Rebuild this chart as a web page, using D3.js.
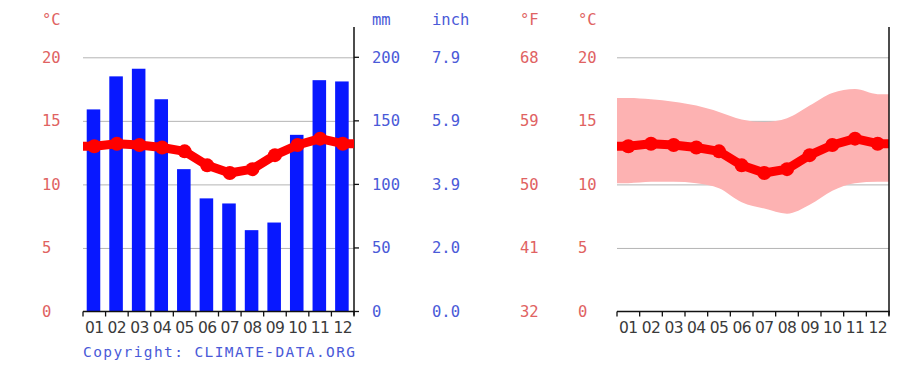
<!DOCTYPE html>
<html>
<head>
<meta charset="utf-8">
<script src="https://cdn.jsdelivr.net/npm/d3@7/dist/d3.min.js"></script>
<style>
  html, body { margin: 0; padding: 0; background: #fff; }
  svg { display: block; }
  .mono { font-family: "DejaVu Sans Mono", monospace; }
  .sans { font-family: "DejaVu Sans", sans-serif; }
</style>
</head>
<body>
<svg id="chart" width="912" height="366"></svg>
<script>
// Monthly climate data
const months = ["01","02","03","04","05","06","07","08","09","10","11","12"];
const precipMm = [159, 185, 191, 167, 112, 89, 85, 64, 70, 139, 182, 181];
const tempMean = [13.0, 13.2, 13.1, 12.9, 12.6, 11.5, 10.9, 11.2, 12.3, 13.1, 13.6, 13.2];
const tempMax  = [16.8, 16.7, 16.5, 16.2, 15.7, 15.1, 14.9, 15.2, 16.2, 17.2, 17.5, 17.1];
const tempMin  = [10.1, 10.2, 10.2, 10.1, 9.7, 8.6, 8.1, 7.7, 8.4, 9.5, 10.1, 10.2];

// Axis tick labels
const celsiusTicks = [0, 5, 10, 15, 20];
const mmTicks = [0, 50, 100, 150, 200];
const inchLabels = ["0.0", "2.0", "3.9", "5.9", "7.9"];
const fahrenheitLabels = ["32", "41", "50", "59", "68"];

const RED_TEXT = "#e06262";
const BLUE_TEXT = "#4a5ad8";
const GRID = "#b4b4b4";

const svg = d3.select("#chart");

const yTop = 57.3, yBase = 311.5;
const yC = d3.scaleLinear().domain([0, 20]).range([yBase, yTop]);
const yMm = d3.scaleLinear().domain([0, 200]).range([yBase, yTop]);

function drawGrid(g, x0, x1) {
  g.selectAll("line.grid").data(celsiusTicks.filter(d => d > 0)).join("line")
    .attr("x1", x0).attr("x2", x1)
    .attr("y1", d => yC(d) + 0.5).attr("y2", d => yC(d) + 0.5)
    .attr("stroke", GRID).attr("stroke-width", 1);
}

function drawFrame(g, x, x0, x1) {
  // bottom axis with tick marks at month boundaries
  g.append("line").attr("x1", x0).attr("x2", x1 + 1)
    .attr("y1", yBase).attr("y2", yBase).attr("stroke", "#111").attr("stroke-width", 1.5);
  const bounds = months.map(m => x(m)).concat([x1]);
  g.selectAll("line.tick").data(bounds).join("line")
    .attr("x1", d => d).attr("x2", d => d)
    .attr("y1", yBase).attr("y2", yBase + 5)
    .attr("stroke", "#111").attr("stroke-width", 1.3);
  // right vertical axis
  g.append("line").attr("x1", x1).attr("x2", x1)
    .attr("y1", 27).attr("y2", yBase + 4).attr("stroke", "#111").attr("stroke-width", 1.5);
  // month labels
  g.selectAll("text.month").data(months).join("text")
    .attr("class", "sans")
    .attr("x", d => x(d) + x.bandwidth() / 2)
    .attr("y", 333)
    .attr("text-anchor", "middle")
    .attr("font-size", 15.5)
    .attr("letter-spacing", -0.6)
    .attr("fill", "#3a3a3a")
    .text(d => d);
}

function tempLine(x, values) {
  return values.map((v, i) => [x(months[i]) + x.bandwidth() / 2, yC(v)]);
}

// ---------- Left chart: precipitation bars + mean temperature ----------
const L0 = 83, L1 = 354;
const xL = d3.scaleBand().domain(months).range([L0, L1]).paddingInner(0).paddingOuter(0);
const gL = svg.append("g");
drawGrid(gL, L0, L1);

const barW = xL.bandwidth() * 0.6;
gL.selectAll("rect.bar").data(precipMm).join("rect")
  .attr("x", (d, i) => xL(months[i]) + (xL.bandwidth() - barW) / 2 - 0.8)
  .attr("width", barW)
  .attr("y", d => yMm(d))
  .attr("height", d => yBase - yMm(d))
  .attr("fill", "#0818ff");

// right mm ticks
gL.selectAll("line.mmtick").data(mmTicks).join("line")
  .attr("x1", L1).attr("x2", L1 + 5)
  .attr("y1", d => yMm(d)).attr("y2", d => yMm(d))
  .attr("stroke", "#111").attr("stroke-width", 1.3);

drawFrame(gL, xL, L0, L1);

function drawTemp(g, x, x0, x1) {
  const pts = tempLine(x, tempMean);
  const full = [[x0, pts[0][1]]].concat(pts, [[x1, pts[pts.length - 1][1]]]);
  g.append("path")
    .attr("d", d3.line()(full))
    .attr("fill", "none").attr("stroke", "#ff0000")
    .attr("stroke-width", 9).attr("stroke-linejoin", "round");
  g.selectAll("circle.pt").data(pts).join("circle")
    .attr("cx", d => d[0]).attr("cy", d => d[1]).attr("r", 7)
    .attr("fill", "#ff0000");
}
drawTemp(gL, xL, L0, L1);

// ---------- Right chart: temperature range band + mean ----------
const R0 = 617, R1 = 889;
const xR = d3.scaleBand().domain(months).range([R0, R1]).paddingInner(0).paddingOuter(0);
const gR = svg.append("g");
drawGrid(gR, R0, R1);

const bandPts = months.map((m, i) => ({ x: xR(m) + xR.bandwidth() / 2, hi: tempMax[i], lo: tempMin[i] }));
const bandFull = [{ x: R0, hi: tempMax[0], lo: tempMin[0] }]
  .concat(bandPts, [{ x: R1, hi: tempMax[11], lo: tempMin[11] }]);
gR.append("path")
  .attr("d", d3.area().x(d => d.x).y0(d => yC(d.lo)).y1(d => yC(d.hi)).curve(d3.curveMonotoneX)(bandFull))
  .attr("fill", "#fdb2b2");

drawTemp(gR, xR, R0, R1);
drawFrame(gR, xR, R0, R1);

// ---------- Axis value columns ----------
function column(x, header, labels, color) {
  const g = svg.append("g").attr("class", "mono").attr("fill", color).attr("font-size", 15.5);
  g.append("text").attr("x", x).attr("y", 25).text(header);
  g.selectAll("text.v").data(labels).join("text")
    .attr("x", x).attr("y", (d, i) => yC(celsiusTicks[i]) + 5.5)
    .text(d => d);
}
column(42, "°C", celsiusTicks.map(String), RED_TEXT);
column(372, "mm", mmTicks.map(String), BLUE_TEXT);
column(432, "inch", inchLabels, BLUE_TEXT);
column(520, "°F", fahrenheitLabels, RED_TEXT);
column(578, "°C", celsiusTicks.map(String), RED_TEXT);

// copyright line
svg.append("text")
  .attr("class", "mono")
  .attr("x", 83).attr("y", 357)
  .attr("font-size", 14.5)
  .attr("fill", BLUE_TEXT)
  .attr("textLength", 272).attr("lengthAdjust", "spacing")
  .text("Copyright: CLIMATE-DATA.ORG");
</script>
</body>
</html>
